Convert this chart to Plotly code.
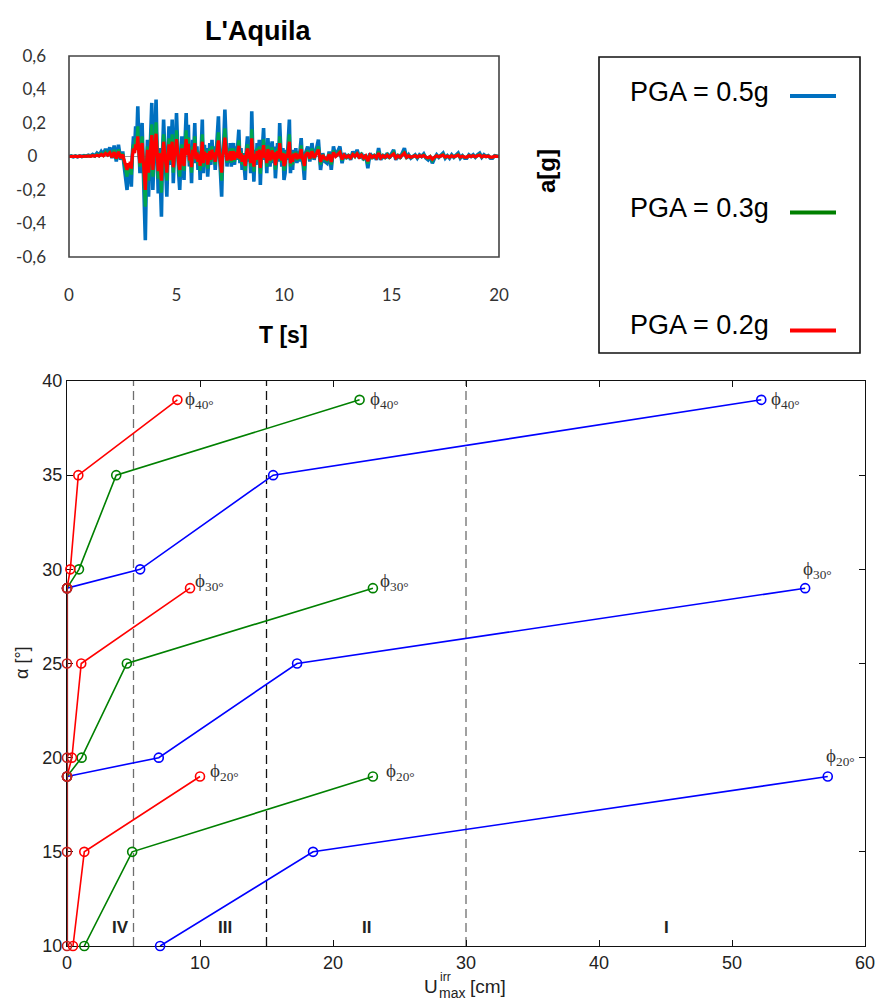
import plotly.graph_objects as go

W, H = 876, 1001


def px(x):
    return x / W


def py(y):
    return 1 - y / H


# ---------------- accelerogram (L'Aquila) ----------------
# sampling grid: (start, step, count)
T_SEGMENTS = [(0.0, 0.1, 25), (2.5, 0.05, 171), (11.1, 0.1, 90)]
T = [round(s + i * d, 2) for s, d, n in T_SEGMENTS for i in range(n)]

A05_PRE = [0, 0.003, -0.002, 0.003, -0.002, 0.004, 0.0, 0.005, 0.002, 0.008, 0.003, 0.012, 0.004,
           0.02, 0.008, 0.03, 0.012, 0.045, 0.02, 0.055, -0.01, 0.065, -0.03, 0.07, -0.02]
A05_MAIN = [0.03, -0.04, -0.09, -0.14, -0.20, -0.10, -0.16, -0.08, -0.18, 0.02,
            0.12, 0.05, 0.18, 0.10, 0.30, 0.06, -0.10, 0.12, 0.20, -0.05,
            -0.30, -0.50, -0.12, 0.10, -0.24, 0.00, 0.15, 0.32, -0.20, 0.05,
            0.18, 0.34, 0.02, -0.22, 0.05, -0.12, -0.36, 0.02, 0.22, 0.05,
            -0.10, -0.24, 0.00, 0.18, -0.05, 0.04, 0.22, -0.16, 0.00, 0.08,
            0.26, 0.02, -0.10, -0.20, 0.05, 0.12, -0.04, -0.14, 0.10, 0.26,
            0.02, 0.19, -0.06, 0.04, -0.16, 0.10, 0.02, 0.20, -0.04, 0.06,
            -0.08, 0.03, -0.14, 0.08, 0.22, -0.10, 0.07, -0.03, 0.05, -0.12,
            0.02, 0.08, -0.05, 0.10, -0.02, 0.06, -0.08, 0.04, 0.10, 0.24,
            0.02, -0.08, -0.24, 0.02, 0.10, 0.28, 0.04, -0.06, 0.05, -0.04,
            0.08, -0.06, 0.03, 0.08, -0.05, 0.06, -0.02, 0.10, 0.16, -0.04,
            0.05, -0.08, 0.02, -0.06, -0.14, 0.04, 0.12, -0.03, 0.06, -0.10,
            0.27, 0.02, -0.15, 0.04, -0.05, 0.08, -0.04, 0.10, -0.17, 0.02,
            0.06, 0.17, -0.02, 0.05, -0.10, 0.11, 0.00, -0.06, 0.04, 0.09,
            -0.04, 0.06, -0.13, 0.02, 0.08, -0.03, 0.20, 0.04, -0.06, 0.05,
            -0.14, -0.10, 0.04, -0.02, 0.08, 0.22, -0.10, 0.02, -0.08, 0.04,
            -0.02, 0.05, -0.04, 0.03, -0.03, 0.08, 0.11, -0.02, -0.06, -0.14,
            0.02]
A05_TAIL = [0.06, -0.03, 0.08, -0.02, 0.04, 0.10, -0.08, 0.02, -0.03, -0.04,
            0.03, -0.08, 0.06, 0.00, 0.03, 0.06, -0.04, 0.02, -0.01, 0.01,
            -0.02, 0.03, 0.00, 0.04, -0.01, 0.02, -0.02, 0.01, -0.07, 0.02,
            -0.01, 0.01, -0.02, 0.05, -0.02, 0.01, -0.01, 0.02, -0.01, 0.02,
            0.04, -0.02, 0.01, -0.01, 0.02, 0.05, -0.01, 0.01, -0.01, 0.00,
            0.01, -0.01, 0.01, 0.00, 0.015, -0.01, -0.02, 0.00, -0.04, -0.01,
            0.01, -0.005, 0.01, 0.02, -0.01, 0.005, -0.01, 0.01, -0.005, 0.01,
            0.02, -0.01, 0.005, -0.01, -0.01, 0.01, 0.00, 0.01, -0.005, 0.01,
            0.02, -0.005, 0.01, 0.00, 0.005, -0.01, -0.01, 0.005, 0.00, 0.00]

A03_PRE = [0, 0.002, -0.001, 0.002, -0.001, 0.002, 0.0, 0.003, 0.001, 0.005, 0.002, 0.007, 0.002,
           0.012, 0.005, 0.018, 0.007, 0.027, 0.012, 0.033, -0.006, 0.039, -0.018, 0.042, -0.012]
A03_MAIN = [0.018, -0.024, -0.054, -0.084, -0.12, -0.06, -0.096, -0.048, -0.108, 0.012,
            0.072, 0.03, 0.108, 0.06, 0.18, 0.036, -0.06, 0.072, 0.12, -0.03,
            -0.18, -0.30, -0.072, 0.06, -0.144, 0.0, 0.09, 0.192, -0.12, 0.03,
            0.108, 0.204, 0.012, -0.132, 0.03, -0.072, -0.216, 0.012, 0.132, 0.03,
            -0.06, -0.144, 0.0, 0.108, -0.03, 0.024, 0.132, -0.096, 0.0, 0.048,
            0.156, 0.012, -0.06, -0.12, 0.03, 0.072, -0.024, -0.084, 0.06, 0.156,
            0.012, 0.114, -0.036, 0.024, -0.096, 0.06, 0.012, 0.12, -0.024, 0.036,
            -0.048, 0.018, -0.084, 0.048, 0.132, -0.06, 0.042, -0.018, 0.03, -0.072,
            0.012, 0.048, -0.03, 0.06, -0.012, 0.036, -0.048, 0.024, 0.06, 0.144,
            0.012, -0.048, -0.144, 0.012, 0.06, 0.168, 0.024, -0.036, 0.03, -0.024,
            0.048, -0.036, 0.018, 0.048, -0.03, 0.036, -0.012, 0.06, 0.096, -0.024,
            0.03, -0.048, 0.012, -0.036, -0.084, 0.024, 0.072, -0.018, 0.036, -0.06,
            0.162, 0.012, -0.09, 0.024, -0.03, 0.048, -0.024, 0.06, -0.102, 0.012,
            0.036, 0.102, -0.012, 0.03, -0.06, 0.066, 0.0, -0.036, 0.024, 0.054,
            -0.024, 0.036, -0.078, 0.012, 0.048, -0.018, 0.12, 0.024, -0.036, 0.03,
            -0.084, -0.06, 0.024, -0.012, 0.048, 0.132, -0.06, 0.012, -0.048, 0.024,
            -0.012, 0.03, -0.024, 0.018, -0.018, 0.048, 0.066, -0.012, -0.036, -0.084,
            0.012]
A03_TAIL = [0.036, -0.018, 0.048, -0.012, 0.024, 0.06, -0.048, 0.012, -0.018, -0.024,
            0.018, -0.048, 0.036, 0.0, 0.018, 0.036, -0.024, 0.012, -0.006, 0.006,
            -0.012, 0.018, 0.0, 0.024, -0.006, 0.012, -0.012, 0.006, -0.042, 0.012,
            -0.006, 0.006, -0.012, 0.03, -0.012, 0.006, -0.006, 0.012, -0.006, 0.012,
            0.024, -0.012, 0.006, -0.006, 0.012, 0.03, -0.006, 0.006, -0.006, 0.0,
            0.006, -0.006, 0.006, 0.0, 0.009, -0.006, -0.012, 0.0, -0.024, -0.006,
            0.006, -0.003, 0.006, 0.012, -0.006, 0.003, -0.006, 0.006, -0.003, 0.006,
            0.012, -0.006, 0.003, -0.006, -0.006, 0.006, 0.0, 0.006, -0.003, 0.006,
            0.012, -0.003, 0.006, 0.0, 0.003, -0.006, -0.006, 0.003, 0.0, 0.0]

A02_PRE = [0, 0.001, -0.001, 0.001, -0.001, 0.002, 0.0, 0.002, 0.001, 0.003, 0.001, 0.005, 0.002,
           0.008, 0.003, 0.012, 0.005, 0.018, 0.008, 0.022, -0.004, 0.026, -0.012, 0.028, -0.008]
A02_MAIN = [0.012, -0.016, -0.036, -0.056, -0.08, -0.04, -0.064, -0.032, -0.072, 0.008,
            0.048, 0.02, 0.072, 0.04, 0.12, 0.024, -0.04, 0.048, 0.08, -0.02,
            -0.12, -0.20, -0.048, 0.04, -0.096, 0.0, 0.06, 0.128, -0.08, 0.02,
            0.072, 0.136, 0.008, -0.088, 0.02, -0.048, -0.144, 0.008, 0.088, 0.02,
            -0.04, -0.096, 0.0, 0.072, -0.02, 0.016, 0.088, -0.064, 0.0, 0.032,
            0.104, 0.008, -0.04, -0.08, 0.02, 0.048, -0.016, -0.056, 0.04, 0.104,
            0.008, 0.076, -0.024, 0.016, -0.064, 0.04, 0.008, 0.08, -0.016, 0.024,
            -0.032, 0.012, -0.056, 0.032, 0.088, -0.04, 0.028, -0.012, 0.02, -0.048,
            0.008, 0.032, -0.02, 0.04, -0.008, 0.024, -0.032, 0.016, 0.04, 0.096,
            0.008, -0.032, -0.096, 0.008, 0.04, 0.112, 0.016, -0.024, 0.02, -0.016,
            0.032, -0.024, 0.012, 0.032, -0.02, 0.024, -0.008, 0.04, 0.064, -0.016,
            0.02, -0.032, 0.008, -0.024, -0.056, 0.016, 0.048, -0.012, 0.024, -0.04,
            0.108, 0.008, -0.06, 0.016, -0.02, 0.032, -0.016, 0.04, -0.068, 0.008,
            0.024, 0.068, -0.008, 0.02, -0.04, 0.044, 0.0, -0.024, 0.016, 0.036,
            -0.016, 0.024, -0.052, 0.008, 0.032, -0.012, 0.08, 0.016, -0.024, 0.02,
            -0.056, -0.04, 0.016, -0.008, 0.032, 0.088, -0.04, 0.008, -0.032, 0.016,
            -0.008, 0.02, -0.016, 0.012, -0.012, 0.032, 0.044, -0.008, -0.024, -0.056,
            0.008]
A02_TAIL = [0.024, -0.012, 0.032, -0.008, 0.016, 0.04, -0.032, 0.008, -0.012, -0.016,
            0.012, -0.032, 0.024, 0.0, 0.012, 0.024, -0.016, 0.008, -0.004, 0.004,
            -0.008, 0.012, 0.0, 0.016, -0.004, 0.008, -0.008, 0.004, -0.028, 0.008,
            -0.004, 0.004, -0.008, 0.02, -0.008, 0.004, -0.004, 0.008, -0.004, 0.008,
            0.016, -0.008, 0.004, -0.004, 0.008, 0.02, -0.004, 0.004, -0.004, 0.0,
            0.004, -0.004, 0.004, 0.0, 0.006, -0.004, -0.008, 0.0, -0.016, -0.004,
            0.004, -0.002, 0.004, 0.008, -0.004, 0.002, -0.004, 0.004, -0.002, 0.004,
            0.008, -0.004, 0.002, -0.004, -0.004, 0.004, 0.0, 0.004, -0.002, 0.004,
            0.008, -0.002, 0.004, 0.0, 0.002, -0.004, -0.004, 0.002, 0.0, 0.0]

A05 = A05_PRE + A05_MAIN + A05_TAIL
A03 = A03_PRE + A03_MAIN + A03_TAIL
A02 = A02_PRE + A02_MAIN + A02_TAIL

TOP_YTICKS = [-0.6, -0.4, -0.2, 0, 0.2, 0.4, 0.6]
TOP_YTICKTEXT = ["-0,6", "-0,4", "-0,2", "0\u00a0\u00a0", "0,2", "0,4", "0,6"]
TOP_XTICKS = [0, 5, 10, 15, 20]
PGA_LABELS = ["PGA = 0.5g", "PGA = 0.3g", "PGA = 0.2g"]

# ---------------- alpha vs U_max^irr ----------------
ALPHA_40 = [29, 30, 35, 39]
ALPHA_30 = [19, 20, 25, 29]
ALPHA_20 = [10, 15, 19]
U_BLUE_40 = [0, 5.5, 15.5, 52.2]
U_BLUE_30 = [0, 6.9, 17.3, 55.5]
U_BLUE_20 = [7.0, 18.5, 57.2]
U_GREEN_40 = [0, 0.9, 3.7, 22.0]
U_GREEN_30 = [0, 1.1, 4.5, 23.0]
U_GREEN_20 = [1.3, 4.9, 23.0]
U_RED_40 = [0, 0.25, 0.85, 8.3]
U_RED_30 = [0, 0.37, 1.07, 9.25]
U_RED_20 = [0.45, 1.3, 10.0]
ALPHA_ZERO = [10, 15, 19, 20, 25, 29]
U_ZERO = [0, 0, 0, 0, 0, 0]
ZONE_BOUNDS = [5, 15, 30]
ZONE_LABELS = ["IV", "III", "II", "I"]
ZONE_LABEL_X = [4.0, 11.9, 22.5, 45.1]

NARROW = "Liberation Sans Narrow, Arial Narrow, Liberation Sans, Arial, sans-serif"
AX_FONT = "Liberation Sans, Arial, sans-serif"

fig = go.Figure()

# top traces
for vals, col, w in [(A05, "#0070C0", 3.6), (A03, "#00A550", 3.2), (A02, "#FF0000", 3.2)]:
    fig.add_trace(go.Scatter(x=T, y=vals, mode="lines", line=dict(color=col, width=w),
                             xaxis="x", yaxis="y", showlegend=False, hoverinfo="skip"))

# bottom traces
BOT = [
    ("#0000FF", [(U_BLUE_40, ALPHA_40), (U_BLUE_30, ALPHA_30), (U_BLUE_20, ALPHA_20)]),
    ("#008000", [(U_GREEN_40, ALPHA_40), (U_GREEN_30, ALPHA_30), (U_GREEN_20, ALPHA_20)]),
    ("#FF0000", [(U_RED_40, ALPHA_40), (U_RED_30, ALPHA_30), (U_RED_20, ALPHA_20)]),
]
for col, series in BOT:
    for xs, ys in series:
        fig.add_trace(go.Scatter(x=xs, y=ys, mode="lines+markers",
                                 line=dict(color=col, width=1.6),
                                 marker=dict(symbol="circle-open", size=9, color=col,
                                             line=dict(width=1.6, color=col)),
                                 xaxis="x2", yaxis="y2", cliponaxis=False,
                                 showlegend=False, hoverinfo="skip"))
fig.add_trace(go.Scatter(x=U_ZERO, y=ALPHA_ZERO, mode="lines+markers",
                         line=dict(color="#A52A2A", width=2.2),
                         marker=dict(symbol="circle-open", size=9, color="#C8201E",
                                     line=dict(width=1.6, color="#C8201E")),
                         xaxis="x2", yaxis="y2", cliponaxis=False,
                         showlegend=False, hoverinfo="skip"))

shapes = []
# top frame
shapes.append(dict(type="rect", xref="x domain", yref="y domain", x0=0, x1=1, y0=0, y1=1,
                   line=dict(color="#444444", width=1.6)))
# legend box
shapes.append(dict(type="rect", xref="paper", yref="paper", x0=px(599), x1=px(860),
                   y0=py(353), y1=py(57), line=dict(color="#111111", width=1.6)))
LEG_Y = [96, 212.5, 330.5]
LEG_COL = ["#0070C0", "#008000", "#FF0000"]
for yy, col in zip(LEG_Y, LEG_COL):
    shapes.append(dict(type="line", xref="paper", yref="paper", x0=px(790), x1=px(836),
                       y0=py(yy), y1=py(yy), line=dict(color=col, width=4)))
# zone boundaries
for xb, col in zip(ZONE_BOUNDS, ["#6E6E6E", "#111111", "#6E6E6E"]):
    shapes.append(dict(type="line", xref="x2", yref="y2", x0=xb, x1=xb, y0=10, y1=40,
                       line=dict(color=col, width=1.3, dash="9px,5px"), layer="below"))


def pann(text, x, y, size, family=NARROW, xanchor="center", angle=0, color="#000"):
    return dict(text=text, x=px(x), y=py(y), xref="paper", yref="paper", showarrow=False,
                xanchor=xanchor, yanchor="middle", textangle=angle,
                font=dict(family=family, size=size, color=color))


ann = []
ann.append(pann("<b>L'Aquila</b>", 258, 31, 27))
ann.append(pann("<b>T [s]</b>", 283, 335, 23))
ann.append(pann("<b>a[g]</b>", 546, 171, 24, angle=-90))
for lab, yy in zip(PGA_LABELS, [92, 208, 325]):
    ann.append(pann(lab, 628, yy, 27, xanchor="left"))
for lab, xx in zip(ZONE_LABELS, ZONE_LABEL_X):
    ann.append(dict(text="<b>" + lab + "</b>", x=xx, y=11.0, xref="x2", yref="y2",
                    xanchor="center", yanchor="middle", showarrow=False,
                    font=dict(family=AX_FONT, size=17, color="#222")))

# phi labels at series end points
PHI_SPECS = [
    (U_RED_40, ALPHA_40, "40", 6, 0), (U_GREEN_40, ALPHA_40, "40", 8, 0),
    (U_BLUE_40, ALPHA_40, "40", 8, 0),
    (U_RED_30, ALPHA_30, "30", 3, 6), (U_GREEN_30, ALPHA_30, "30", 5, 6),
    (U_BLUE_30, ALPHA_30, "30", -4, 18),
    (U_RED_20, ALPHA_20, "20", 8, 5), (U_GREEN_20, ALPHA_20, "20", 11, 5),
    (U_BLUE_20, ALPHA_20, "20", -4, 20),
]
for xs, ys, sub, dx, dy in PHI_SPECS:
    ann.append(dict(text="\u03d5<sub>" + sub + "\u00b0</sub>", x=xs[-1], y=ys[-1],
                    xref="x2", yref="y2", xanchor="left", yanchor="middle",
                    xshift=dx, yshift=dy, showarrow=False,
                    font=dict(family="Liberation Serif, Times New Roman, serif", size=19,
                              color="#333333")))

# bottom axis titles
ann.append(pann("\u03b1 [\u00b0]", 22, 663, 18, family=AX_FONT, angle=-90, color="#222"))
ann.append(pann("U", 431, 986, 19, family=AX_FONT, color="#222"))
ann.append(pann("irr", 438, 977, 12, family=AX_FONT, xanchor="left", color="#222"))
ann.append(pann("max", 437, 993, 14, family=AX_FONT, xanchor="left", color="#222"))
ann.append(pann("[cm]", 468, 986, 19, family=AX_FONT, xanchor="left", color="#222"))

TOP_FONT = dict(family="Lato, Open Sans, sans-serif", size=17, color="#333")
BOT_FONT = dict(family=AX_FONT, size=18, color="#222")

fig.update_layout(
    width=W, height=H, margin=dict(l=0, r=0, t=0, b=0, pad=0, autoexpand=False),
    paper_bgcolor="white", plot_bgcolor="white",
    xaxis=dict(domain=[px(69), px(499)], range=[0, 20], anchor="y", tickvals=TOP_XTICKS,
               showgrid=False, zeroline=False, showline=False, ticks="", automargin=False,
               ticklabelstandoff=26, tickfont=TOP_FONT),
    yaxis=dict(domain=[py(257), py(56)], range=[-0.6, 0.6], anchor="x", tickvals=TOP_YTICKS,
               ticktext=TOP_YTICKTEXT, showgrid=False, zeroline=True, zerolinecolor="#999",
               zerolinewidth=1.2, showline=False, ticks="", ticklabelstandoff=22,
               automargin=False, tickfont=TOP_FONT),
    xaxis2=dict(domain=[px(67), px(865)], range=[0, 60], anchor="y2", dtick=10, tick0=0,
                showgrid=False, zeroline=False, showline=True, linecolor="#111", linewidth=1.4,
                mirror="ticks", ticks="inside", ticklen=6, tickcolor="#111", tickwidth=1,
                automargin=False, layer="below traces", tickfont=BOT_FONT),
    yaxis2=dict(domain=[py(946), py(381)], range=[10, 40], anchor="x2", dtick=5, tick0=10,
                showgrid=False, zeroline=False, showline=True, linecolor="#111", linewidth=1.4,
                mirror="ticks", ticks="inside", ticklen=6, tickcolor="#111", tickwidth=1,
                automargin=False, layer="below traces", tickfont=BOT_FONT),
    shapes=shapes, annotations=ann, showlegend=False,
)

fig.write_html("out.html", config={"displayModeBar": False},
               post_script="document.body.style.margin='0px';"
                           "document.body.style.overflow='hidden';")
